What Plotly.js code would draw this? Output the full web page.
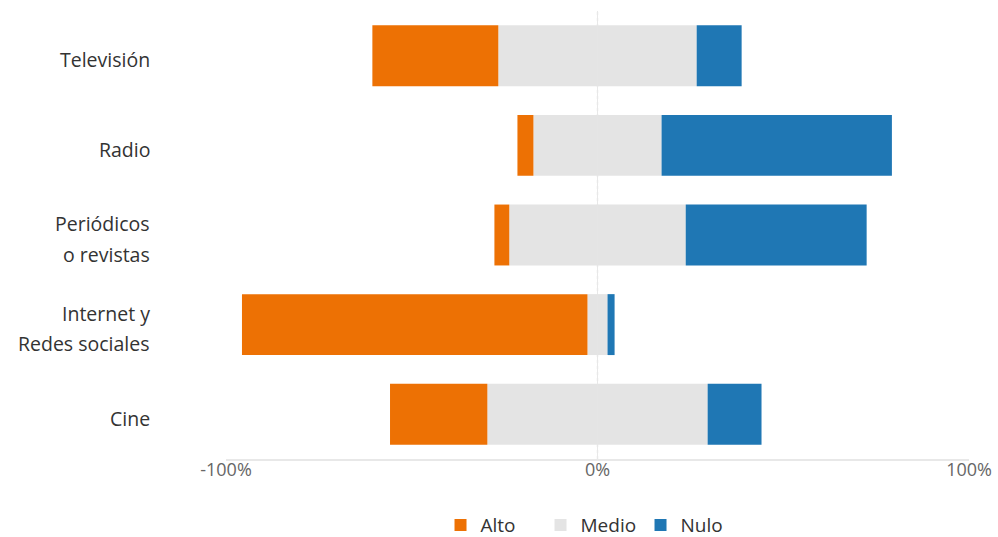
<!DOCTYPE html>
<html>
<head>
<meta charset="utf-8">
<script src="https://cdn.plot.ly/plotly-3.0.1.min.js"></script>
<style>html,body{margin:0;padding:0;background:#fff;}#chart{width:998px;height:537px;}</style>
</head>
<body>
<div id="chart"></div>
<script>
const categories = ['Televisión', 'Radio', 'Periódicos\no revistas', 'Internet y\nRedes sociales', 'Cine'];
const alto  = [33.9, 4.3, 4.0, 93.0, 26.2];
const medio = [53.4, 34.5, 47.5, 5.4, 59.3];
const nulo  = [12.1, 62.0, 48.7, 1.9, 14.5];
const tickVals = [-100, 0, 100];
const tickText = ['-100%', '0%', '100%'];

const cols = {alto: '#ED7104', medio: '#E4E4E4', nulo: '#1F77B4'};
const base = {type: 'bar', orientation: 'h', y: categories, width: 0.68, hoverinfo: 'skip'};

const traces = [
  Object.assign({}, base, {name: 'Medio', x: medio.map(v => -v / 2), marker: {color: cols.medio}, showlegend: false, legendgroup: 'm'}),
  Object.assign({}, base, {name: 'Alto', x: alto.map(v => -v), marker: {color: cols.alto}, legendrank: 1}),
  Object.assign({}, base, {name: 'Medio', x: medio.map(v => v / 2), marker: {color: cols.medio}, legendgroup: 'm', legendrank: 2}),
  Object.assign({}, base, {name: 'Nulo', x: nulo, marker: {color: cols.nulo}, legendrank: 3})
];

const font = 'Open Sans, sans-serif';
const annotations = [];
categories.forEach((c, i) => {
  const lines = c.split('\n');
  lines.forEach((ln, j) => {
    annotations.push({
      text: ln, xref: 'paper', yref: 'y', x: -0.0996, y: c, xanchor: 'right', yanchor: 'middle',
      yshift: -(j - (lines.length - 1) / 2) * 30.5 - 4, showarrow: false,
      font: {family: font, size: 19.5, color: '#333'}
    });
  });
});

const layout = {
  width: 998, height: 537,
  margin: {l: 226, r: 29, t: 11, b: 78, autoexpand: false},
  paper_bgcolor: '#fff', plot_bgcolor: '#fff',
  barmode: 'relative',
  bargap: 0.32,
  xaxis: {
    range: [-100, 100], tickvals: tickVals, ticktext: tickText,
    showgrid: true, gridcolor: '#E8E8E8', gridwidth: 1.5, zeroline: false,
    showline: true, linecolor: '#E8E8E8', linewidth: 1.5, automargin: false,
    tickfont: {family: font, size: 18, color: '#666'}, ticklabelstandoff: -6,
    fixedrange: true
  },
  yaxis: {
    autorange: 'reversed', showticklabels: false, showgrid: false, zeroline: false,
    fixedrange: true, automargin: false
  },
  shapes: [{type: 'line', xref: 'x', yref: 'paper', x0: 0, x1: 0, y0: 0, y1: 1,
    line: {color: '#EBEBEB', width: 1.5, dash: 'dot'}, layer: 'below'}],
  annotations: annotations,
  showlegend: true,
  legend: {orientation: 'h', x: 0.4906, xanchor: 'center', yref: 'container', y: 0.022, yanchor: 'middle',
    font: {family: font, size: 19, color: '#333'}, entrywidth: 55,
    traceorder: 'normal', itemclick: false, itemdoubleclick: false},
};
Plotly.newPlot('chart', traces, layout, {displayModeBar: false, staticPlot: true});
</script>
</body>
</html>
